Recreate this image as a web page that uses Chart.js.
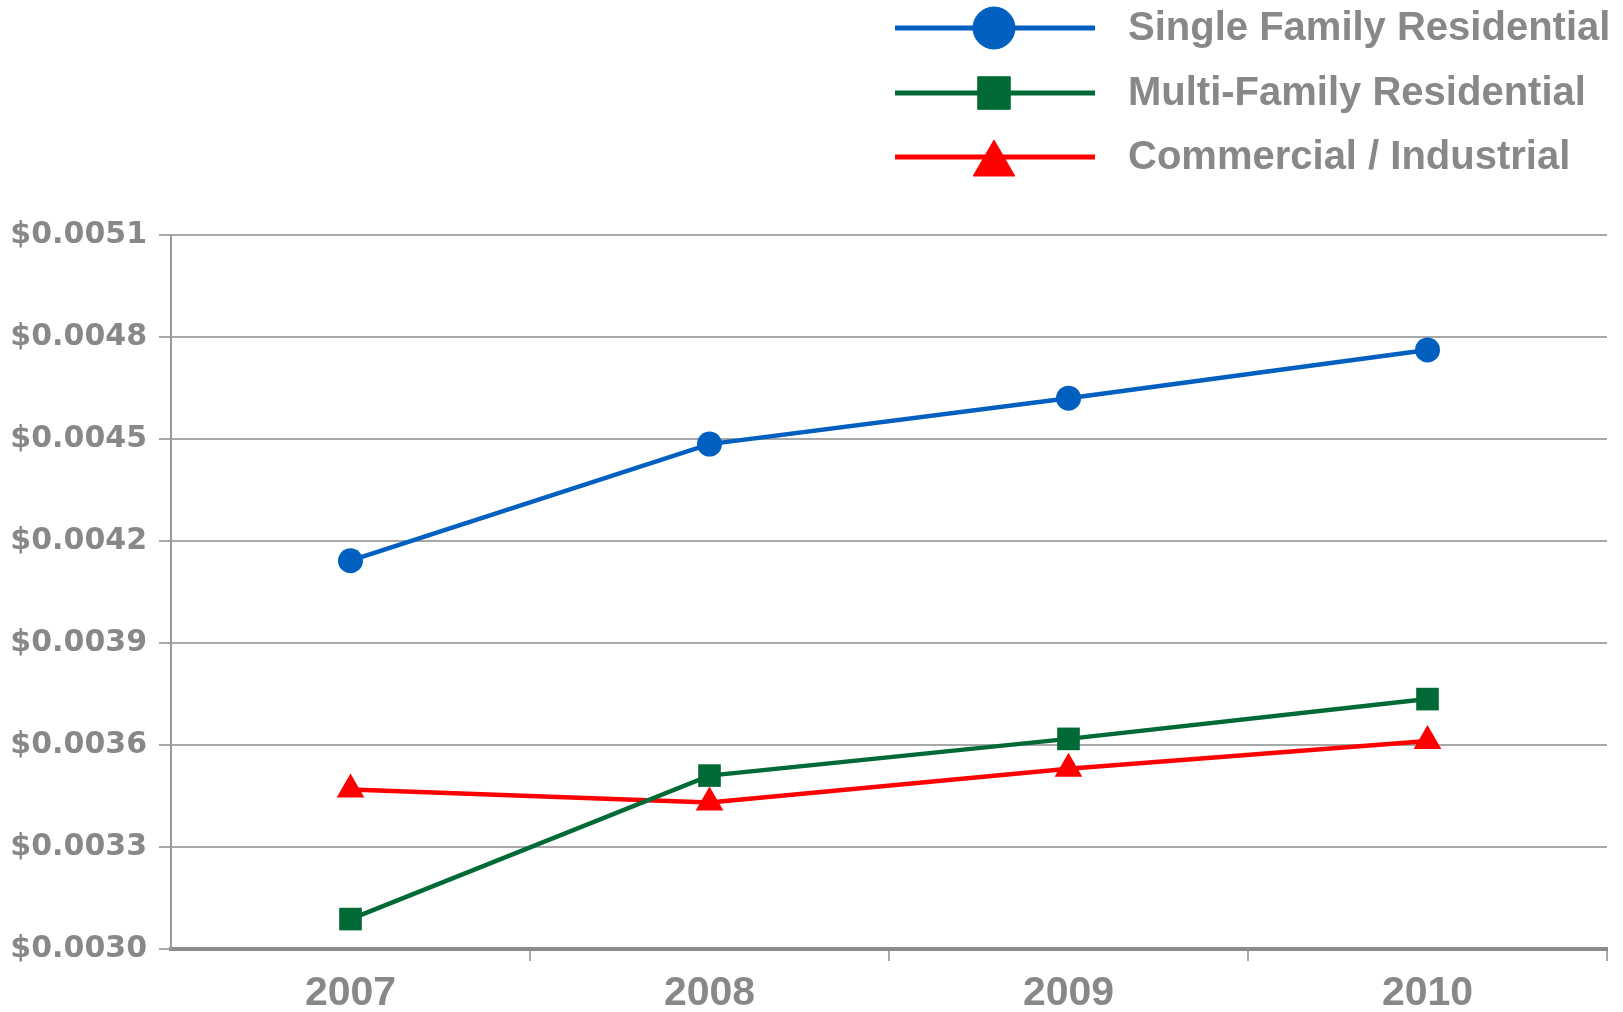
<!DOCTYPE html>
<html>
<head>
<meta charset="utf-8">
<script src="https://cdn.jsdelivr.net/npm/chart.js@4.4.0/dist/chart.umd.min.js"></script>
<style>
  html, body { margin: 0; padding: 0; background: #ffffff; }
  #wrap { width: 1623px; height: 1012px; position: relative; }
</style>
</head>
<body>
<div id="wrap"><canvas id="c"></canvas></div>
<script>
// ---- data ----
const categories = ['2007', '2008', '2009', '2010'];
const singleFamily = [0.004142, 0.004485, 0.004620, 0.004762];
const multiFamily = [0.003088, 0.003510, 0.003618, 0.003735];
const commercial = [0.003469, 0.003431, 0.003530, 0.003612];
const seriesNames = ['Single Family Residential', 'Multi-Family Residential', 'Commercial / Industrial'];
const yTickValues = [0.0030, 0.0033, 0.0036, 0.0039, 0.0042, 0.0045, 0.0048, 0.0051];

const GRAY_TEXT = '#888888';
const colors = ['#005fbf', '#006a36', '#ff0000'];

const legendPlugin = {
  id: 'lineLegend',
  afterDraw(chart) {
    const ctx = chart.ctx;
    const rows = [28, 93, 157];
    const markerRadius = [21, 23, 24];
    const markerOffset = [0, 0, 7];
    chart.data.datasets.forEach((ds, i) => {
      const y = rows[i];
      ctx.save();
      ctx.strokeStyle = ds.borderColor;
      ctx.lineWidth = 5;
      ctx.beginPath();
      ctx.moveTo(895, y);
      ctx.lineTo(1095, y);
      ctx.stroke();
      ctx.fillStyle = ds.pointBackgroundColor;
      ctx.strokeStyle = ds.pointBackgroundColor;
      ctx.lineWidth = 1;
      Chart.helpers.drawPoint(ctx, {
        pointStyle: ds.pointStyle,
        radius: markerRadius[i],
        rotation: 0,
        borderWidth: 1
      }, 994, y + markerOffset[i]);
      ctx.fillStyle = GRAY_TEXT;
      ctx.font = 'bold 40px "Liberation Sans", Arial, sans-serif';
      ctx.textBaseline = 'middle';
      ctx.textAlign = 'left';
      ctx.fillText(ds.label, 1128, y + 1);
      ctx.restore();
    });
  }
};

const ctx = document.getElementById('c').getContext('2d');
new Chart(ctx, {
  type: 'line',
  data: {
    labels: categories,
    datasets: [
      {
        label: seriesNames[0], data: singleFamily,
        borderColor: colors[0], backgroundColor: colors[0],
        pointBackgroundColor: colors[0], pointBorderColor: colors[0],
        pointStyle: 'circle', pointRadius: 12.5, borderWidth: 4.5, pointBorderWidth: 0
      },
      {
        label: seriesNames[1], data: multiFamily,
        borderColor: colors[1], backgroundColor: colors[1],
        pointBackgroundColor: colors[1], pointBorderColor: colors[1],
        pointStyle: 'rect', pointRadius: 16, borderWidth: 4.5, pointBorderWidth: 0
      },
      {
        label: seriesNames[2], data: commercial,
        borderColor: colors[2], backgroundColor: colors[2],
        pointBackgroundColor: colors[2], pointBorderColor: colors[2],
        pointStyle: 'triangle', pointRadius: 16, borderWidth: 4.5, pointBorderWidth: 0
      }
    ]
  },
  options: {
    responsive: true,
    maintainAspectRatio: false,
    animation: false,
    devicePixelRatio: 1,
    layout: { padding: { top: 235, right: 13, left: 0, bottom: 0 } },
    plugins: {
      legend: { display: false },
      tooltip: { enabled: false }
    },
    scales: {
      x: {
        type: 'category',
        offset: true,
        grid: {
          display: true, offset: true, drawOnChartArea: false, drawTicks: true,
          tickLength: 12, lineWidth: 2,
          color: (c) => (c.index === 0 ? 'rgba(0,0,0,0)' : '#a8a8a8'),
          tickColor: (c) => (c.index === 0 ? 'rgba(0,0,0,0)' : '#a8a8a8')
        },
        border: { display: true, color: '#8c8c8c', width: 4 },
        ticks: {
          color: GRAY_TEXT, padding: 8,
          font: { family: '"Liberation Sans", Arial, sans-serif', weight: 'bold', size: 41 }
        },
        afterFit(scale) { scale.height = 63; }
      },
      y: {
        min: 0.0030, max: 0.0051,
        afterBuildTicks(scale) { scale.ticks = yTickValues.map(v => ({ value: v })); },
        grid: { color: '#a8a8a8', lineWidth: 2, drawTicks: true, tickLength: 12 },
        border: { display: true, color: '#9a9a9a', width: 2 },
        ticks: {
          color: GRAY_TEXT, padding: 12,
          font: { family: '"DejaVu Sans", sans-serif', weight: 'bold', size: 30 },
          callback: (v) => '$' + Number(v).toFixed(4)
        },
        afterFit(scale) { scale.width = 171; }
      }
    }
  },
  plugins: [legendPlugin]
});
</script>
</body>
</html>
